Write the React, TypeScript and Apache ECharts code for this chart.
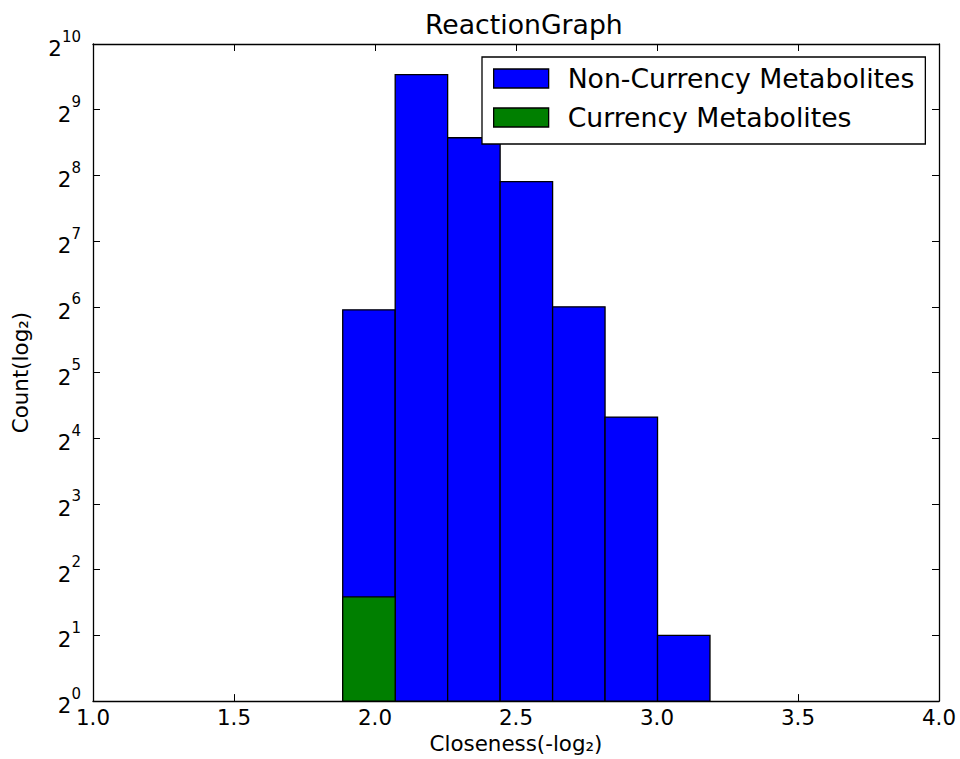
import React, { useEffect, useRef } from "react";
import * as echarts from "echarts";

const TITLE = "ReactionGraph";
const X_NAME = "Closeness(-log\u2082)";
const Y_NAME = "Count(log\u2082)";
const SERIES_NAMES = ["Non-Currency Metabolites", "Currency Metabolites"];
const BIN_EDGES = [1.8855, 2.0716, 2.2576, 2.4437, 2.6298, 2.8158, 3.0019, 3.1879];
const NON_CURRENCY_COUNTS = [62, 741, 381, 240, 64, 20, 2];
const CURRENCY_COUNTS = [3, 0, 0, 0, 0, 0, 0];
const COLORS = ["#0000ff", "#007f00"];
const X_MIN = 1.0;
const X_MAX = 4.0;
const X_STEP = 0.5;
const Y_MIN = 1;
const Y_MAX = 1024;
const Y_LOG_STEP = 1;

const FONT = "DejaVu Sans";

function buildData(counts: number[]) {
  const out: number[][] = [];
  counts.forEach((c, i) => {
    if (c > 0) out.push([BIN_EDGES[i], BIN_EDGES[i + 1], c]);
  });
  return out;
}

function makeRender(color: string) {
  return (params: any, api: any) => {
    const x0 = api.value(0);
    const x1 = api.value(1);
    const y = api.value(2);
    const p0 = api.coord([x0, y]);
    const p1 = api.coord([x1, Y_MIN]);
    return {
      type: "rect",
      shape: { x: p0[0], y: p0[1], width: p1[0] - p0[0], height: p1[1] - p0[1] },
      style: { fill: color, stroke: "#000", lineWidth: 1.3 },
    };
  };
}

export default function App() {
  const ref = useRef<HTMLDivElement>(null);
  useEffect(() => {
    if (!ref.current) return;
    const chart = echarts.init(ref.current, undefined, { renderer: "svg" });
    const axisLine = { show: true, onZero: false, lineStyle: { color: "#000", width: 1.3 } };
    const tick = { show: true, inside: true, length: 7, lineStyle: { color: "#000", width: 1 } };
    chart.setOption({
      animation: false,
      backgroundColor: "#fff",
      textStyle: { fontFamily: FONT },
      title: {
        text: TITLE,
        left: 420,
        top: 6,
        textStyle: { fontFamily: FONT, fontSize: 26.7, fontWeight: "normal", color: "#000" },
      },
      legend: {
        orient: "vertical",
        left: 482,
        top: 57,
        padding: [8, 11, 13, 11],
        itemGap: 12,
        itemWidth: 55,
        itemHeight: 19,
        icon: "rect",
        borderColor: "#000",
        borderWidth: 1.3,
        borderRadius: 0,
        backgroundColor: "#fff",
        data: SERIES_NAMES,
        itemStyle: { borderColor: "#000", borderWidth: 1.3 },
        textStyle: { fontFamily: FONT, fontSize: 26.7, color: "#000", lineHeight: 26, padding: [0, 0, 0, 14] },
      },
      grid: { left: 93, right: 21, top: 44, bottom: 51, containLabel: false },
      xAxis: [
        {
          type: "value",
          min: X_MIN,
          max: X_MAX,
          interval: X_STEP,
          position: "bottom",
          name: X_NAME,
          nameLocation: "middle",
          nameGap: 31,
          nameTextStyle: { fontFamily: FONT, fontSize: 21.4, color: "#000" },
          axisLine,
          axisTick: tick,
          splitLine: { show: false },
          axisLabel: {
            fontFamily: FONT,
            fontSize: 21.4,
            color: "#000",
            margin: 6,
            formatter: (v: number) => v.toFixed(1),
          },
        },
        {
          type: "value",
          min: X_MIN,
          max: X_MAX,
          interval: X_STEP,
          position: "top",
          axisLine,
          axisTick: tick,
          splitLine: { show: false },
          axisLabel: { show: false },
        },
      ],
      yAxis: [
        {
          type: "log",
          logBase: 2,
          min: Y_MIN,
          max: Y_MAX,
          interval: Y_LOG_STEP,
          splitNumber: 10,
          position: "left",
          name: Y_NAME,
          nameLocation: "middle",
          nameRotate: 90,
          nameGap: 62,
          nameTextStyle: { fontFamily: FONT, fontSize: 21.4, color: "#000" },
          axisLine,
          axisTick: tick,
          splitLine: { show: false },
          axisLabel: {
            fontFamily: FONT,
            color: "#000",
            margin: 12,
            formatter: (v: number) => "{b|2}{s|" + Math.round(Math.log2(v)) + "}",
            rich: {
              b: { fontFamily: FONT, fontSize: 21.4, color: "#000", lineHeight: 30, verticalAlign: "bottom" },
              s: { fontFamily: FONT, fontSize: 15, color: "#000", lineHeight: 15, verticalAlign: "top" },
            },
          },
        },
        {
          type: "log",
          logBase: 2,
          min: Y_MIN,
          max: Y_MAX,
          interval: Y_LOG_STEP,
          splitNumber: 10,
          position: "right",
          axisLine,
          axisTick: tick,
          splitLine: { show: false },
          axisLabel: { show: false },
        },
      ],
      series: [
        {
          name: SERIES_NAMES[0],
          type: "custom",
          xAxisIndex: 0,
          yAxisIndex: 0,
          clip: true,
          itemStyle: { color: COLORS[0], borderColor: "#000", borderWidth: 1.3 },
          encode: { x: [0, 1], y: 2 },
          renderItem: makeRender(COLORS[0]),
          data: buildData(NON_CURRENCY_COUNTS),
          z: 2,
        },
        {
          name: SERIES_NAMES[1],
          type: "custom",
          xAxisIndex: 0,
          yAxisIndex: 0,
          clip: true,
          itemStyle: { color: COLORS[1], borderColor: "#000", borderWidth: 1.3 },
          encode: { x: [0, 1], y: 2 },
          renderItem: makeRender(COLORS[1]),
          data: buildData(CURRENCY_COUNTS),
          z: 3,
        },
      ],
    });
    return () => chart.dispose();
  }, []);
  return (
    <div
      ref={ref}
      style={{ position: "fixed", left: 0, top: 0, width: 960, height: 759 }}
    />
  );
}
